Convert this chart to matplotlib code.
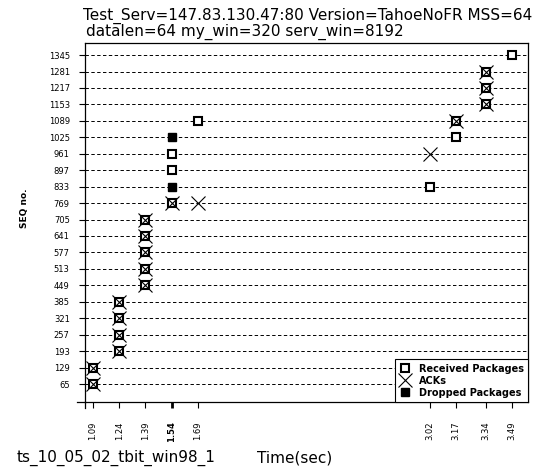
import matplotlib
matplotlib.use("Agg")
import matplotlib.pyplot as plt

# ---- data ----
tick_times = [1.09, 1.24, 1.39, 1.54, 1.69, 3.02, 3.17, 3.34, 3.49]
tick_labels = ["1.09", "1.24", "1.39", "1.54", "1.69", "3.02", "3.17", "3.34", "3.49"]
seq_ticks = [65, 129, 193, 257, 321, 385, 449, 513, 577, 641, 705, 769,
             833, 897, 961, 1025, 1089, 1153, 1217, 1281, 1345]

recv_t = [1.09, 1.09, 1.24, 1.24, 1.24, 1.24, 1.39, 1.39, 1.39, 1.39, 1.39,
          1.54, 1.54, 1.54, 1.69, 3.02, 3.17, 3.17, 3.34, 3.34, 3.34, 3.49]
recv_seq = [65, 129, 193, 257, 321, 385, 449, 513, 577, 641, 705,
            769, 897, 961, 1089, 833, 1025, 1089, 1153, 1217, 1281, 1345]

ack_t = [1.09, 1.09, 1.24, 1.24, 1.24, 1.24, 1.39, 1.39, 1.39, 1.39, 1.39,
         1.54, 1.69, 3.02, 3.17, 3.34, 3.34, 3.34]
ack_seq = [65, 129, 193, 257, 321, 385, 449, 513, 577, 641, 705,
           769, 769, 961, 1089, 1153, 1217, 1281]

drop_t = [1.54, 1.54]
drop_seq = [833, 1025]

title_line1 = "Test_Serv=147.83.130.47:80 Version=TahoeNoFR MSS=64"
title_line2 = "datalen=64 my_win=320 serv_win=8192"
file_label = "ts_10_05_02_tbit_win98_1"
x_label = "Time(sec)"
y_label = "SEQ no."

# ---- figure ----
W, H = 536, 468
fig = plt.figure(figsize=(W / 100, H / 100), dpi=100)
ax = fig.add_axes([85 / W, 1 - 402 / H, (528 - 85) / W, (402 - 43) / H])

ax.set_xlim(1.044, 3.582)
ax.set_ylim(-5, 1392)

ax.yaxis.grid(True, linestyle=(0, (3.5, 2.5)), color="black", linewidth=0.7)
ax.set_axisbelow(True)

ax.plot(recv_t, recv_seq, linestyle="none", marker="s", markersize=5.2,
        markerfacecolor="white", markeredgecolor="black", markeredgewidth=1.5,
        zorder=3, label="Received Packages")
ax.plot(ack_t, ack_seq, linestyle="none", marker="x", markersize=10,
        color="black", markeredgewidth=0.8, zorder=4, label="ACKs")
ax.plot(drop_t, drop_seq, linestyle="none", marker="s", markersize=5.8,
        markerfacecolor="black", markeredgecolor="black", zorder=3,
        label="Dropped Packages")

ax.set_xticks(tick_times)
ax.set_xticklabels(tick_labels, rotation=90, fontsize=6)
ax.set_yticks(seq_ticks)
ax.set_yticklabels([str(s) for s in seq_ticks], fontsize=6)
ax.tick_params(axis="x", direction="out", length=4, width=0.8, pad=10)
ax.tick_params(axis="y", direction="out", length=4, width=0.8, pad=7)

# emphasise the 1.54 tick
t154 = ax.xaxis.get_major_ticks()[3]
t154.tick1line.set_markeredgewidth(2)
t154.label1.set_fontweight("bold")

for sp in ax.spines.values():
    sp.set_linewidth(0.9)
    sp.set_color("black")

# axis lines crossing beyond the corner
ax.plot([-8 / 443, 0], [0, 0], transform=ax.transAxes, color="black",
        linewidth=0.9, clip_on=False)
ax.plot([0, 0], [-6 / 359, 0], transform=ax.transAxes, color="black",
        linewidth=0.9, clip_on=False)

leg = ax.legend(loc="lower right", borderaxespad=0, fancybox=False,
                edgecolor="black", framealpha=1,
                prop={"size": 7, "weight": "bold"}, handlelength=1.2,
                handletextpad=0.8, labelspacing=0.2, borderpad=0.45)
leg.get_frame().set_linewidth(0.8)

fig.text(83 / W, 1 - 16 / H, title_line1, fontsize=11, va="center", ha="left")
fig.text(86 / W, 1 - 32 / H, title_line2, fontsize=11, va="center", ha="left")
fig.text(17 / W, 1 - 458 / H, file_label, fontsize=11, va="center", ha="left")
fig.text(257 / W, 1 - 458 / H, x_label, fontsize=11, va="center", ha="left")
fig.text(25 / W, 1 - 208 / H, y_label, fontsize=6.5, fontweight="bold",
         rotation=90, va="center", ha="center")

fig.savefig("out.png", dpi=100)
